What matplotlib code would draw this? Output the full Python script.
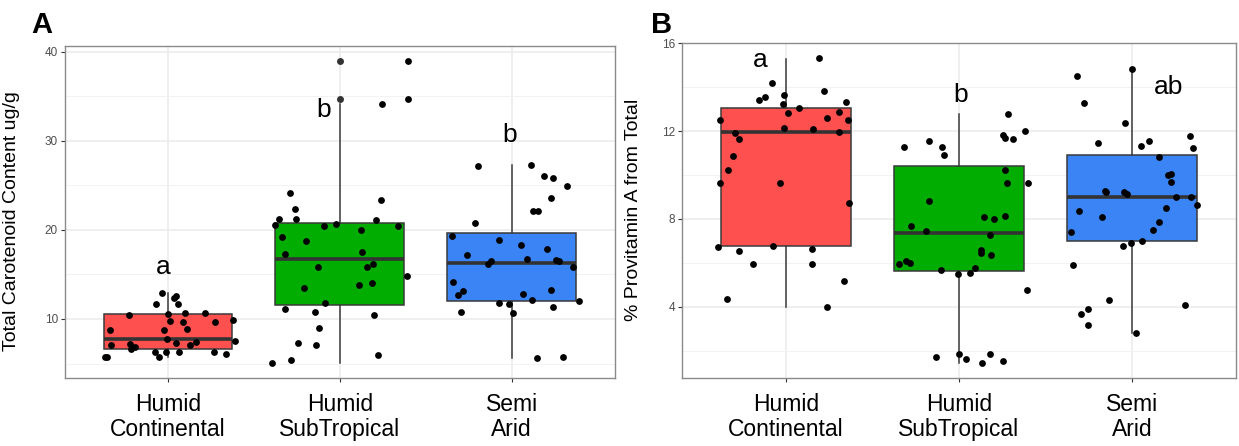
import matplotlib
matplotlib.use('Agg')
import matplotlib.pyplot as plt
import numpy as np
from matplotlib.ticker import MultipleLocator

plt.rcParams['font.family'] = ['Liberation Sans', 'DejaVu Sans']

categories = ['Humid\nContinental', 'Humid\nSubTropical', 'Semi\nArid']
box_colors = ['#FF5050', '#00AD00', '#3A84F5']

# ---------------- Panel A: Total carotenoid content (ug/g) ----------------
a_hc_vals = [5.71, 5.71, 8.77, 7.09, 10.5, 7.17, 6.64, 6.83, 11.65, 12.88, 8.77,
             7.76, 6.34, 5.71, 6.30, 10.52, 9.78, 12.3, 12.6, 11.68, 7.35, 6.27,
             9.70, 10.64, 8.88, 7.09, 7.46, 10.71, 9.63, 6.34, 6.05, 9.89, 7.54]
a_hc_jit = [-0.369, -0.355, -0.340, -0.330, -0.227, -0.223, -0.213, -0.190, -0.073,
            -0.038, -0.025, -0.009, -0.077, -0.054, -0.013, 0.0, 0.014, 0.033, 0.045,
            0.058, 0.045, 0.061, 0.087, 0.097, 0.111, 0.126, 0.165, 0.215, 0.272,
            0.266, 0.340, 0.379, 0.387]

a_hst_vals = [39.0, 34.64, 34.15, 24.19, 23.33, 22.32, 21.2, 21.2, 21.16, 20.53,
              20.41, 20.64, 20.04, 20.45, 19.22, 18.77, 17.54, 17.31, 15.86, 15.79,
              16.12, 14.0, 13.81, 13.44, 14.82, 11.76, 11.12, 10.75, 10.48, 9.03,
              7.35, 7.09, 5.97, 5.41, 5.04]
a_hst_jit = [0.398, 0.398, 0.243, -0.291, 0.241, -0.260, -0.355, -0.256, 0.208,
             -0.379, -0.093, -0.022, 0.124, 0.336, -0.338, -0.198, 0.128, -0.319,
             -0.128, 0.156, 0.194, 0.190, 0.111, -0.211, 0.388, -0.087, -0.320,
             -0.147, 0.198, -0.124, -0.243, -0.136, 0.221, -0.287, -0.394]

a_sa_vals = [27.13, 27.25, 26.09, 25.87, 24.89, 23.62, 22.17, 22.17, 20.72, 19.29,
             18.88, 18.25, 17.87, 17.13, 16.75, 16.6, 16.53, 16.46, 16.12, 15.86,
             14.18, 13.17, 12.69, 12.8, 13.25, 12.02, 12.13, 11.76, 11.64, 10.82,
             10.64, 11.38, 5.63, 5.78]
a_sa_jit = [-0.195, 0.111, 0.190, 0.239, 0.324, 0.229, 0.126, 0.151, -0.212, -0.346,
            -0.076, 0.054, 0.207, -0.260, 0.087, 0.258, 0.274, -0.121, -0.136, 0.359,
            -0.340, -0.282, -0.311, 0.068, 0.227, 0.392, 0.118, -0.076, -0.014,
            -0.297, 0.009, 0.241, 0.149, 0.301]

a_q1 = [6.64, 11.57, 12.05]
a_med = [7.76, 16.72, 16.23]
a_q3 = [10.52, 20.72, 19.6]
a_lo = [5.71, 5.04, 5.63]
a_hi = [12.88, 34.15, 27.25]
a_out = [[], [34.64, 39.0], []]
a_letters = ['a', 'b', 'b']
a_letter_y = [15.87, 33.46, 30.65]
a_letter_dx = [-0.026, -0.097, -0.01]

# ---------------- Panel B: % provitamin A from total ----------------
b_hc_vals = [15.32, 14.18, 13.82, 13.67, 13.43, 13.55, 13.25, 13.32, 13.06, 12.84,
             12.86, 12.59, 12.53, 12.52, 12.15, 12.11, 11.91, 11.94, 11.65, 10.86,
             10.25, 9.65, 9.62, 8.75, 6.73, 6.77, 6.52, 6.61, 5.93, 5.97, 5.18,
             4.34, 4.0]
b_hc_jit = [0.192, -0.079, 0.221, -0.012, -0.154, -0.121, -0.017, 0.35, 0.077, 0.013,
            0.308, 0.235, -0.381, 0.356, -0.012, 0.158, -0.294, 0.304, -0.269,
            -0.304, -0.333, -0.381, -0.033, 0.364, -0.394, -0.073, -0.271, 0.15,
            -0.192, 0.152, 0.335, -0.342, 0.24]

b_hst_vals = [12.76, 11.84, 11.7, 11.99, 11.65, 11.26, 11.53, 11.27, 10.91, 10.23,
              9.62, 9.62, 8.8, 8.08, 8.0, 8.15, 7.7, 7.45, 7.27, 6.58, 6.45, 6.35,
              5.94, 6.09, 5.99, 5.67, 5.49, 5.56, 5.75, 4.75, 1.73, 1.85, 1.61,
              1.45, 1.84, 1.53]
b_hst_jit = [0.285, 0.254, 0.264, 0.379, 0.314, -0.317, -0.171, -0.1, -0.084, 0.264,
             0.279, 0.398, -0.173, 0.146, 0.202, 0.268, -0.277, -0.19, 0.179, 0.125,
             0.125, 0.185, -0.346, -0.308, -0.284, -0.102, -0.003, 0.062, 0.092,
             0.395, -0.13, 0.0, 0.042, 0.131, 0.181, 0.256]

b_sa_vals = [14.84, 14.53, 13.29, 12.38, 11.47, 11.32, 11.55, 11.77, 11.25, 10.84,
             9.99, 10.06, 9.7, 9.27, 9.23, 9.23, 9.12, 8.99, 9.0, 8.62, 8.36, 8.08,
             8.49, 7.88, 7.49, 7.41, 6.77, 6.91, 7.0, 5.9, 4.32, 3.91, 3.65, 3.17,
             4.09, 2.79]
b_sa_jit = [0.0, -0.317, -0.276, -0.044, -0.2, 0.052, 0.096, 0.335, 0.354, 0.154,
            0.206, 0.226, 0.227, -0.158, -0.15, -0.048, -0.031, 0.256, 0.341, 0.376,
            -0.308, -0.175, 0.197, 0.154, 0.122, -0.351, -0.054, -0.008, 0.056,
            -0.342, -0.136, -0.253, -0.298, -0.253, 0.304, 0.02]

b_q1 = [6.76, 5.65, 6.99]
b_med = [11.96, 7.36, 9.0]
b_q3 = [13.06, 10.4, 10.93]
b_lo = [4.0, 1.45, 2.79]
b_hi = [15.29, 12.76, 14.84]
b_out = [[], [], []]
b_letters = ['a', 'b', 'ab']
b_letter_y = [15.25, 13.63, 14.03]
b_letter_dx = [-0.15, 0.01, 0.21]

W, H = 1239, 446
fig = plt.figure(figsize=(W / 100, H / 100), dpi=100)

axA = fig.add_axes([65 / W, 1 - 377.7 / H, (614.7 - 65) / W, (377.7 - 45.7) / H])
axB = fig.add_axes([682 / W, 1 - 377.7 / H, (1236 - 682) / W, (377.7 - 42.7) / H])


def draw_panel(ax, groups, q1, med, q3, lo, hi, outs, letters, ly, ldx,
               ylim, major, minor, ylabel, ylab_xy):
    stats = []
    for i in range(3):
        stats.append(dict(q1=q1[i], med=med[i], q3=q3[i], whislo=lo[i],
                          whishi=hi[i], fliers=outs[i]))
    bp = ax.bxp(stats, positions=[1, 2, 3], widths=0.75, patch_artist=True,
                showcaps=False, manage_ticks=False,
                boxprops=dict(edgecolor='#3a3a3a', linewidth=1.1),
                medianprops=dict(color='#333333', linewidth=2.6),
                whiskerprops=dict(color='#3a3a3a', linewidth=1.1),
                flierprops=dict(marker='o', markerfacecolor='#333333',
                                markeredgecolor='none', markersize=5.0))
    for patch, c in zip(bp['boxes'], box_colors):
        patch.set_facecolor(c)
        patch.set_zorder(2)
    for key in ('whiskers', 'medians', 'fliers'):
        for art in bp[key]:
            art.set_zorder(2.5)

    for i, (vals, jit) in enumerate(groups):
        xs = (i + 1) + np.asarray(jit)
        ax.scatter(xs, vals, s=24, color='black', linewidths=0, zorder=3)

    for i in range(3):
        ax.text(i + 1 + ldx[i], ly[i], letters[i], fontsize=19, ha='center',
                va='center', color='black', zorder=4)

    ax.set_xlim(0.4, 3.6)
    ax.set_ylim(*ylim)
    ax.yaxis.set_major_locator(MultipleLocator(major))
    ax.yaxis.set_minor_locator(MultipleLocator(minor))
    ax.set_xticks([1, 2, 3])
    ax.set_xticklabels(categories, fontsize=16.5, color='black', linespacing=1.12)
    ax.grid(True, which='major', color='#EBEBEB', linewidth=1.1, zorder=0)
    ax.grid(True, which='minor', axis='y', color='#F2F2F2', linewidth=0.7, zorder=0)
    ax.set_axisbelow(True)
    ax.tick_params(axis='y', which='major', labelsize=8.5, labelcolor='#4D4D4D',
                   color='#333333', length=3, width=0.8, pad=2)
    ax.tick_params(axis='y', which='minor', length=0)
    ax.tick_params(axis='x', which='major', color='#333333', length=3, width=0.8, pad=8)
    for sp in ax.spines.values():
        sp.set_color('#8A8A8A')
        sp.set_linewidth(1.0)

    ax.set_ylabel(ylabel, fontsize=14, color='black')
    ax.yaxis.set_label_coords(*ylab_xy)


draw_panel(axA, [(a_hc_vals, a_hc_jit), (a_hst_vals, a_hst_jit), (a_sa_vals, a_sa_jit)],
           a_q1, a_med, a_q3, a_lo, a_hi, a_out, a_letters, a_letter_y, a_letter_dx,
           (3.41, 40.67), 10, 5, 'Total Carotenoid Content ug/g', (-0.082, 0.472))

draw_panel(axB, [(b_hc_vals, b_hc_jit), (b_hst_vals, b_hst_jit), (b_sa_vals, b_sa_jit)],
           b_q1, b_med, b_q3, b_lo, b_hi, b_out, b_letters, b_letter_y, b_letter_dx,
           (0.77, 16.03), 4, 2, '% Provitamin A from Total', (-0.072, 0.5))

fig.text(31 / W, 1 - 33 / H, 'A', fontsize=21, fontweight='bold', va='baseline', ha='left')
fig.text(651 / W, 1 - 33 / H, 'B', fontsize=21, fontweight='bold', va='baseline', ha='left')

fig.savefig('out.png', dpi=100)
